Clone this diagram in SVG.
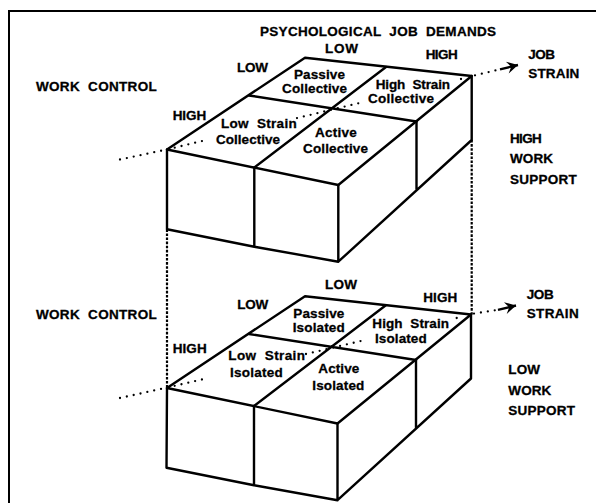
<svg xmlns="http://www.w3.org/2000/svg" width="596" height="503" viewBox="0 0 596 503">
<defs>
<style>
.ln{fill:none;stroke:#000;stroke-width:2.4;stroke-linejoin:round;stroke-linecap:round}
.frame{fill:none;stroke:#000;stroke-width:2}
.dot{fill:none;stroke:#000;stroke-width:2.3;stroke-linecap:round;stroke-dasharray:0 7}
.vdot{fill:none;stroke:#000;stroke-width:2.2;stroke-dasharray:2.6 1.5}
.shaft{fill:none;stroke:#000;stroke-width:2.4}
.t{font-family:"Liberation Sans",Arial,Helvetica,sans-serif;font-weight:bold;font-size:13.5px;fill:#000;stroke:#000;stroke-width:0.3;white-space:pre}
</style>
<marker id="ah" orient="auto" markerUnits="userSpaceOnUse" viewBox="-12 -7 13 14" refX="0" refY="0" markerWidth="13" markerHeight="14">
<path d="M0,0 L-11,-6 L-7,0 L-11,6 Z" fill="#000"/>
</marker>
</defs>
<rect x="0" y="0" width="596" height="503" fill="#fff"/>
<path class="frame" d="M9,503 L9,11 L596,11"/>

<g id="box-collective">
<path class="ln" d="M167,149.5 L305,57.7 L471.7,76 L338.3,185 Z"/>
<path class="ln" d="M249,95.5 L416.5,121.5 M254.3,167.5 L386,67"/>
<path class="ln" d="M167,149.5 L167,229.3 L254.3,246.7 L338.3,261.7 L471.7,140 L471.7,76 M338.3,185 L338.3,261.7 M254.3,167.5 L254.3,246.7 M416.5,121.5 L416.5,189"/>
</g>

<g id="box-isolated">
<path class="ln" d="M167,388 L305,296.2 L471,314.5 L337.5,423.5 Z"/>
<path class="ln" d="M249,334 L416,360 M254,406 L385.5,305.5"/>
<path class="ln" d="M167,388 L166.5,467.8 L254,485.2 L337.5,500.2 L471,378.5 L471,314.5 M337.5,423.5 L337.5,500.2 M254,406 L254,485.2 M416,360 L416,427.5"/>
</g>

<g id="connectors">
<path class="vdot" d="M167,229.3 L167,388 M471.7,140 L471.7,314.5"/>
<path class="dot" d="M120,159.5 L167,149.5 L205,140.3 M297,118.1 L364,101.9 M461,79 L461.5,78.9 M475,75.3 L500,69.3"/>
<line class="shaft" x1="500" y1="69.3" x2="518" y2="65" marker-end="url(#ah)"/>
<path class="dot" d="M120,398 L166.7,387.7 L204,379 M306,354 L361,341 M456.7,318 L457.2,317.9 M474,313.6 L498,309.8"/>
<line class="shaft" x1="498" y1="309.8" x2="516" y2="305.5" marker-end="url(#ah)"/>
</g>

<g id="axis-labels-top">
<text class="t" x="260" y="35.5" textLength="236">PSYCHOLOGICAL  JOB  DEMANDS</text>
<text class="t" x="325" y="52.7" textLength="33">LOW</text>
<text class="t" x="425.7" y="59.3" textLength="32">HIGH</text>
<text class="t" x="237" y="71.7" textLength="31">LOW</text>
<text class="t" x="172.7" y="119.5" textLength="33.5">HIGH</text>
<text class="t" x="36" y="90.7" textLength="120.7">WORK  CONTROL</text>
<text class="t" x="528.3" y="59.3" textLength="26.7">JOB</text>
<text class="t" x="528.3" y="78.3" textLength="51">STRAIN</text>
<text class="t" x="510" y="142.7" textLength="31.7">HIGH</text>
<text class="t" x="510" y="163.3" textLength="43">WORK</text>
<text class="t" x="510" y="184" textLength="66.7">SUPPORT</text>
</g>

<g id="cell-passive-collective">
<text class="t" x="294" y="79" textLength="51">Passive</text>
<text class="t" x="282" y="92.7" textLength="65">Collective</text>
</g>
<g id="cell-highstrain-collective">
<text class="t" x="375.7" y="89" textLength="74.3">High  Strain</text>
<text class="t" x="368" y="103" textLength="66">Collective</text>
</g>
<g id="cell-lowstrain-collective">
<text class="t" x="221" y="127.7" textLength="75.7">Low  Strain</text>
<text class="t" x="216" y="144.3" textLength="64">Collective</text>
</g>
<g id="cell-active-collective">
<text class="t" x="315" y="136.7" textLength="41.7">Active</text>
<text class="t" x="303" y="153" textLength="65">Collective</text>
</g>

<g id="axis-labels-bottom">
<text class="t" x="325" y="289.3" textLength="32">LOW</text>
<text class="t" x="423.3" y="302.3" textLength="34">HIGH</text>
<text class="t" x="237.3" y="309.3" textLength="31">LOW</text>
<text class="t" x="172.7" y="352.7" textLength="34">HIGH</text>
<text class="t" x="36" y="318.5" textLength="120.7">WORK  CONTROL</text>
<text class="t" x="526.7" y="299.3" textLength="27">JOB</text>
<text class="t" x="526.7" y="318.3" textLength="52">STRAIN</text>
<text class="t" x="508.3" y="374" textLength="31.7">LOW</text>
<text class="t" x="508.3" y="394.5" textLength="43">WORK</text>
<text class="t" x="508.3" y="415" textLength="66.7">SUPPORT</text>
</g>

<g id="cell-passive-isolated">
<text class="t" x="293.3" y="318" textLength="51">Passive</text>
<text class="t" x="292.7" y="332" textLength="52">Isolated</text>
</g>
<g id="cell-highstrain-isolated">
<text class="t" x="372.3" y="328.3" textLength="76.7">High  Strain</text>
<text class="t" x="375" y="343.3" textLength="51.7">Isolated</text>
</g>
<g id="cell-lowstrain-isolated">
<text class="t" x="228.3" y="360" textLength="76.7">Low  Strain</text>
<text class="t" x="230" y="376.7" textLength="52.7">Isolated</text>
</g>
<g id="cell-active-isolated">
<text class="t" x="318.3" y="373.3" textLength="41">Active</text>
<text class="t" x="312.3" y="390" textLength="52">Isolated</text>
</g>
</svg>
